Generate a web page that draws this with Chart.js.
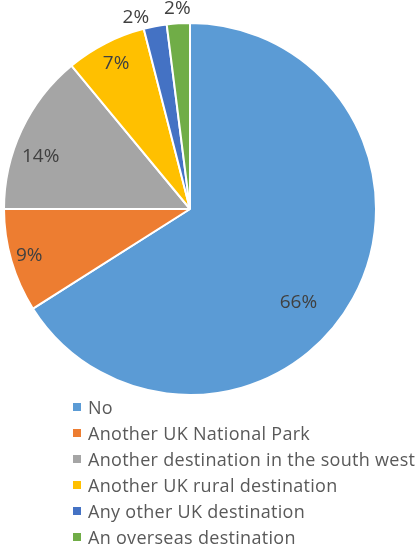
<!DOCTYPE html>
<html>
<head>
<meta charset="utf-8">
<script src="https://cdn.jsdelivr.net/npm/chart.js@4.4.1/dist/chart.umd.min.js"></script>
<style>
  html, body { margin: 0; padding: 0; background: #fff; }
  #wrap { position: relative; width: 418px; height: 551px; overflow: hidden; }
  #pie { position: absolute; left: 0; top: 0; }
  #legend { position: absolute; left: 73px; top: 394px; margin: 0; padding: 0; list-style: none;
            font-family: "Open Sans", sans-serif; font-size: 18px; letter-spacing: 0.3px; color: #595959; }
  #legend li { height: 26px; line-height: 26px; white-space: nowrap; display: flex; align-items: center; }
  #legend .box { display: inline-block; width: 8px; height: 8px; margin-right: 7px; }
</style>
</head>
<body>
<div id="wrap">
  <canvas id="pie" width="418" height="551"></canvas>
  <ul id="legend"></ul>
</div>
<script>
// Survey answers: share of respondents (%)
const categories = [
  'No',
  'Another UK National Park',
  'Another destination in the south west',
  'Another UK rural destination',
  'Any other UK destination',
  'An overseas destination'
];
const shares = [66, 9, 14, 7, 2, 2];
const valueLabels = ['66%', '9%', '14%', '7%', '2%', '2%'];
const sliceColors = ['#5B9BD5', '#ED7D31', '#A5A5A5', '#FFC000', '#4472C4', '#70AD47'];

// Where each value label sits: fraction of the radius, and a small turn (degrees) off the slice middle
const labelRadius = [0.77, 0.9, 0.85, 0.875, 1.07, 1.08];
const labelTurn = [12, 0, -6, 0, -5, 0];

const valueLabelPlugin = {
  id: 'valueLabels',
  afterDatasetsDraw(chart) {
    const ctx = chart.ctx;
    const meta = chart.getDatasetMeta(0);
    ctx.save();
    ctx.font = '19px "Open Sans", sans-serif';
    ctx.fillStyle = '#404040';
    ctx.textAlign = 'center';
    ctx.textBaseline = 'middle';
    meta.data.forEach((arc, i) => {
      const p = arc.getProps(['x', 'y', 'startAngle', 'endAngle', 'outerRadius'], true);
      const mid = (p.startAngle + p.endAngle) / 2 + labelTurn[i] * Math.PI / 180;
      const r = p.outerRadius * labelRadius[i];
      ctx.fillText(valueLabels[i], p.x + Math.cos(mid) * r, p.y + Math.sin(mid) * r);
    });
    ctx.restore();
  }
};

const chart = new Chart(document.getElementById('pie'), {
  type: 'pie',
  data: {
    labels: categories,
    datasets: [{
      data: shares,
      backgroundColor: sliceColors,
      borderColor: '#ffffff',
      borderWidth: 2
    }]
  },
  options: {
    responsive: false,
    animation: false,
    layout: { padding: { left: 3, top: 22, right: 41, bottom: 155 } },
    plugins: {
      legend: { display: false },
      tooltip: { enabled: false }
    }
  },
  plugins: [valueLabelPlugin]
});

// Legend built from the chart's own labels
const legendEl = document.getElementById('legend');
chart.options.plugins.legend.labels.generateLabels(chart).forEach(item => {
  const li = document.createElement('li');
  const box = document.createElement('span');
  box.className = 'box';
  box.style.background = item.fillStyle;
  li.appendChild(box);
  li.appendChild(document.createTextNode(item.text));
  legendEl.appendChild(li);
});
</script>
</body>
</html>
